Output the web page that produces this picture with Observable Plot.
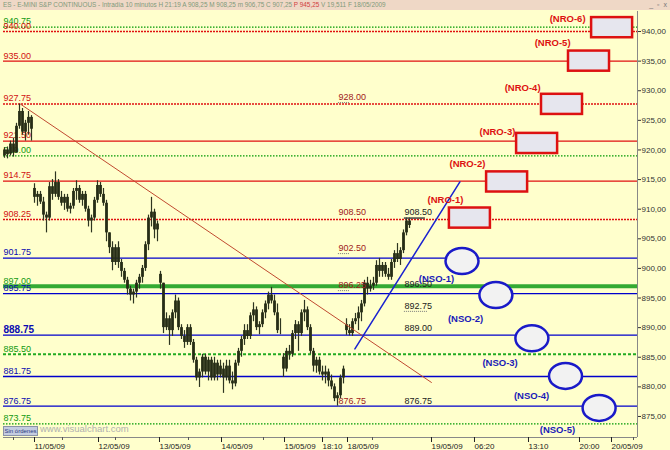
<!DOCTYPE html>
<html><head><meta charset="utf-8">
<script src="https://cdn.jsdelivr.net/npm/d3@7"></script>
<script src="https://cdn.jsdelivr.net/npm/@observablehq/plot@0.6"></script>
<style>
body{margin:0;background:#FFFFCC;font-family:"Liberation Sans",Arial,sans-serif;}
#wrap{position:relative;width:670px;height:450px;overflow:hidden;background:#FFFFCC;}
#hdr{height:10px;background:#EFD8C6;font-size:6.4px;line-height:10px;color:#7f9a7a;white-space:nowrap;padding-left:3px;position:relative;}
#hdr .r{color:#d04040;}
#hdr .w{position:absolute;right:2px;top:1px;color:#777;font-size:7px;line-height:8px;letter-spacing:1px;}
#btn{position:absolute;left:3px;top:426px;width:33px;height:8px;background:#c4cce0;border:1px solid #8a92a8;font-size:6px;line-height:8px;color:#2a3a80;text-align:center;}
#wm{position:absolute;left:40px;top:423px;font-size:9.5px;color:#b0b0b0;}
svg{display:block;}
</style></head>
<body><div id="wrap">
<div id="hdr">ES - E-MINI S&amp;P CONTINUOUS - Intradía 10 minutos H 21:19 A 908,25 M 908,25 m 906,75 C 907,25 <span class="r">P 945,25</span> V 19,511 F 18/05/2009<span class="w">_ ▫ x</span></div>
<div id="chart"></div>
<div id="btn">Sin órdenes</div>
<div id="wm">www.visualchart.com</div>
</div>
<script>
// ---- OHLC bars (10-minute), [open, high, low, close]
const day0 = [
 [919.0,920.4,918.6,920.0],[920.0,920.5,918.5,919.2],[919.3,921.5,919.0,921.0],[921.0,922.0,918.8,919.5],
 [919.5,924.5,919.5,924.0],[924.0,927.75,923.5,926.5],[926.5,927.0,922.5,923.0],[923.0,925.0,921.5,924.5],
 [924.5,926.5,922.5,925.5],[925.5,925.8,921.5,923.5]];
const day1 = [
 [913.5,914.3,911.0,912.0],[912.0,913.0,910.5,912.5],[912.5,913.0,910.8,911.2],[911.2,912.0,908.0,909.0],
 [909.0,909.5,906.0,908.5],[908.5,914.5,908.0,913.8],[913.8,915.0,911.5,912.5],[912.5,916.3,912.0,914.5],
 [914.5,915.0,911.5,912.0],[912.0,913.0,910.5,911.0],[911.0,912.5,909.8,912.0],[912.0,912.5,909.5,910.0],
 [910.0,911.0,909.2,910.5],[910.5,913.5,910.0,913.0],[913.0,914.8,911.5,913.5],[913.5,914.0,911.0,911.5],
 [911.5,913.0,910.5,912.5],[912.5,913.0,909.5,910.0],[910.0,910.5,907.0,908.0],[908.0,909.0,906.0,908.5],
 [908.5,912.0,908.0,911.5],[911.5,914.8,911.0,914.0],[914.0,914.5,912.0,912.5],[912.5,913.5,910.5,911.0],
 [911.0,911.5,904.5,906.0]];
const day2 = [
 [906.0,906.0,902.5,903.5],[903.5,904.5,899.6,901.0],[901.0,904.0,900.5,903.5],[903.5,904.5,900.0,901.0],
 [901.0,901.5,898.5,899.5],[899.5,900.0,897.5,898.0],[898.0,898.5,895.5,896.5],[896.5,897.0,894.5,895.5],
 [895.5,896.5,894.0,896.0],[896.0,898.0,895.0,897.5],[897.5,899.0,896.5,898.5],[898.5,900.5,897.5,900.0],
 [900.0,904.5,899.5,904.0],[904.0,909.0,903.0,908.5],[908.5,912.0,907.0,909.5],[909.5,910.0,905.0,906.5],
 [906.5,908.0,904.5,907.5]];
const day3 = [
 [899.0,899.5,896.5,897.5],[897.5,897.5,889.0,890.0],[890.0,892.5,889.5,891.5],[891.5,892.0,887.0,889.5],
 [889.5,893.0,888.5,892.5],[892.5,895.5,891.5,894.5],[894.5,895.0,889.5,890.0],[890.0,890.5,888.0,888.5],
 [888.5,889.5,886.5,887.5],[887.5,890.5,887.0,890.0],[890.0,890.5,887.0,887.5],[887.5,888.0,884.0,884.5],
 [884.5,885.0,881.0,881.5],[881.5,883.0,879.9,882.5],[882.5,885.5,881.5,885.0],[885.0,885.5,882.0,882.5],
 [882.5,885.0,881.0,884.5],[884.5,885.0,881.0,881.5],[881.5,885.0,881.0,884.0],[884.0,884.5,881.0,882.0],
 [882.0,884.5,881.5,883.5]];
const day4 = [
 [883.0,884.0,878.9,881.5],[881.5,884.5,881.0,883.5],[883.5,884.5,880.5,881.0],[881.0,882.5,879.5,880.5],
 [880.5,884.5,880.0,884.0],[884.0,886.5,883.5,886.0],[886.0,888.5,885.0,888.0],[888.0,890.5,887.0,889.5],
 [889.5,890.5,888.0,888.5],[888.5,892.5,888.0,892.0],[892.0,894.2,891.0,893.0],[893.0,893.5,889.5,890.0],
 [890.0,891.0,888.8,890.5],[890.5,893.0,890.0,892.5],[892.5,894.5,891.5,894.0],[894.0,896.0,893.0,895.5],
 [895.5,896.8,894.0,894.5],[894.5,895.5,892.0,892.5],[892.5,894.0,889.0,889.5],[889.5,891.5,888.8,889.5]];
const day5 = [
 [885.0,885.6,881.6,883.0],[883.0,886.5,882.5,886.0],[886.0,887.0,884.5,885.5],[885.5,889.5,885.0,889.0],
 [889.0,891.2,888.0,890.5],[890.5,891.0,886.0,889.0],[889.0,893.0,888.5,892.5],[892.5,894.6,891.0,893.0],
 [893.0,893.5,889.5,890.0],[890.0,890.5,885.5,886.0],[886.0,886.5,882.5,883.5],[883.5,885.0,882.3,884.5],
 [884.5,885.0,882.0,882.5],[882.5,883.5,881.0,882.0],[882.0,883.5,880.5,882.5],[882.5,883.0,880.0,881.0],
 [881.0,882.0,879.5,880.0],[880.0,880.5,877.5,878.0],[878.0,879.0,876.75,878.5],[878.5,882.0,878.0,881.5],
 [881.5,883.5,880.5,883.0]];
const day6 = [
 [890.5,891.5,888.7,889.5],[889.5,890.5,888.6,889.0],[889.0,891.5,888.5,891.0],[891.0,892.4,890.5,891.5],
 [891.5,893.5,889.5,892.5],[892.5,894.6,891.0,894.0],[894.0,898.0,893.5,897.5],[897.5,898.5,895.5,896.5],
 [896.5,898.0,896.0,897.0],[897.0,898.5,896.3,897.5],[897.5,901.3,897.0,900.5],[900.5,901.7,898.5,899.5],
 [899.5,901.0,898.5,900.5],[900.5,901.0,898.5,899.0],[899.0,900.0,898.0,898.5],[898.5,901.5,898.0,901.0],
 [901.0,903.0,900.0,902.5],[902.5,904.2,901.0,901.5],[901.5,903.5,900.5,903.0],[903.0,906.5,902.5,906.0],
 [906.0,908.5,905.5,908.0],[908.0,908.5,906.75,907.25]];

// ---- horizontal levels
const redSolid = [935.00, 921.50, 914.75];
const redDotted = [940.00, 927.75, 908.25];
const greenDotted = [940.75, 919.00, 873.75];
const greenDashed = [885.50];
const greenThick = [897.00];
const blueSolid = [901.75, 895.75, 881.75, 876.75];
const blueBold = [888.75];

// ---- annotations
const annotA = [928.00, 908.50, 902.50, 896.25, 876.75];
const annotB = [908.50, 896.50, 892.75, 889.00, 876.75];
const underA = [928.00, 902.50, 896.25, 876.75];
const underB = [892.75];
const highMark = [908.50];
const annotSlotA = 111.3, annotSlotB = 133.3;

const redTrend = [{slot: 5.3, price: 927.75}, {slot: 142.3, price: 880.75}];
const blueTrend = [{slot: 116.8, price: 886.4}, {slot: 151.8, price: 914.6}];

const nroNames = ["(NRO-1)","(NRO-2)","(NRO-3)","(NRO-4)","(NRO-5)","(NRO-6)"];
const nroPrices = [908.50, 914.60, 921.10, 927.70, 935.00, 940.65];
const nroSlots = [148.3, 160.7, 170.7, 179.0, 188.0, 195.7];
const nroLabelSlots = [147.0, 154.3, 164.3, 172.7, 182.7, 187.7];
const nroLabelPrices = [911.6, 917.7, 923.1, 930.5, 938.0, 942.2];

const nsoNames = ["(NSO-1)","(NSO-2)","(NSO-3)","(NSO-4)","(NSO-5)"];
const nsoPrices = [901.25, 895.5, 888.2, 881.85, 876.45];
const nsoSlots = [152.5, 163.8, 175.8, 187.0, 198.2];
const nsoLabelSlots = [144.0, 153.7, 165.2, 175.7, 184.3];
const nsoLabelPrices = [898.3, 891.55, 884.1, 878.4, 872.8];

// ---- axes
const xTickSlots = [9.67, 31, 51.33, 72, 93, 105.67, 114, 142, 156.33, 174.33, 191.33, 202];
const xTickLabels = ["11/05/09","12/05/09","13/05/09","14/05/09","15/05/09","18:10","18/05/09","19/05/09","06:20","13:10","20:00","20/05/09"];
const xMinorSlots = [3, 19.33, 37, 61.33, 86.33, 122.67, 209.67];
const yTicks = [875, 880, 885, 890, 895, 900, 905, 910, 915, 920, 925, 930, 935, 940];

const xDomain = [-1/3, 211];
const yDomain = [871.45, 943.38];

const bars = [day0, day1, day2, day3, day4, day5, day6].flat().map(([o,h,l,c], i) => ({i, o, h, l, c}));
const nro = nroNames.map((name, k) => ({name, price: nroPrices[k], slot: nroSlots[k], ls: nroLabelSlots[k], lp: nroLabelPrices[k]}));
const nso = nsoNames.map((name, k) => ({name, price: nsoPrices[k], slot: nsoSlots[k], ls: nsoLabelSlots[k], lp: nsoLabelPrices[k]}));
const xLabelMap = new Map(xTickSlots.map((s, k) => [s, xTickLabels[k]]));

const BOXW = 13.67, BOXH = 3.4;
const ERX = 16.5, ERY = 13, KK = 0.5523;
const ellipse = {draw(ctx) {
  ctx.moveTo(ERX, 0);
  ctx.bezierCurveTo(ERX, KK*ERY, KK*ERX, ERY, 0, ERY);
  ctx.bezierCurveTo(-KK*ERX, ERY, -ERX, KK*ERY, -ERX, 0);
  ctx.bezierCurveTo(-ERX, -KK*ERY, -KK*ERX, -ERY, 0, -ERY);
  ctx.bezierCurveTo(KK*ERX, -ERY, ERX, -KK*ERY, ERX, 0);
  ctx.closePath();
}};

const fmt = d => d.toFixed(2);
const lab = (arr, fill, extra = {}) => Plot.text(arr, {y: d => d, text: fmt, frameAnchor: "left", textAnchor: "start", dx: 0, dy: -5.5, fill, fontSize: 9, ...extra});

const plot = Plot.plot({
  width: 670, height: 440,
  marginTop: 1, marginBottom: 13, marginLeft: 3, marginRight: 33,
  x: {domain: xDomain},
  y: {domain: yDomain},
  style: {background: "transparent", fontFamily: "Liberation Sans, Arial, sans-serif", overflow: "visible"},
  marks: [
    Plot.ruleY(greenDotted, {y: d => d, stroke: "#009900", strokeWidth: 1.3, strokeDasharray: "1.5,1.5"}),
    Plot.ruleY(redDotted, {y: d => d, stroke: "#e01010", strokeWidth: 1.6, strokeDasharray: "2,1"}),
    Plot.ruleY(redSolid, {y: d => d, stroke: "#e01010", strokeWidth: 1.3}),
    Plot.ruleY(greenDashed, {y: d => d, stroke: "#22aa22", strokeWidth: 2, strokeDasharray: "3,2"}),
    Plot.ruleY(greenThick, {y: d => d, stroke: "#33aa33", strokeWidth: 4}),
    Plot.ruleY(blueSolid.concat(blueBold), {y: d => d, stroke: "#0000cc", strokeWidth: 1.3}),
    lab(greenDotted, "#119911"), lab(greenDashed, "#119911"), lab(greenThick, "#119911"),
    lab(redSolid, "#d01010"), lab(redDotted, "#d01010"),
    lab(blueSolid, "#0a0ab0"), lab(blueBold, "#0a0ab0", {fontSize: 10, fontWeight: "bold"}),
    Plot.ruleX([xDomain[1]], {stroke: "#888", strokeWidth: 1}),
    Plot.ruleY([yDomain[0]], {stroke: "#888", strokeWidth: 1}),
    Plot.axisY({ticks: yTicks, anchor: "right", tickSize: 3, tickPadding: 1, tickFormat: d => d.toFixed(2).replace(".", ","), fontSize: 8, color: "#333", label: null}),
    Plot.axisX({ticks: xTickSlots, tickSize: 5, tickPadding: 1, tickFormat: d => xLabelMap.get(d), textAnchor: "start", dx: 1, fontSize: 8, color: "#222", label: null}),
    Plot.axisX({ticks: xMinorSlots, tickSize: 3, tickFormat: () => "", color: "#555", label: null}),
    Plot.ruleX(bars, {x: "i", y1: "l", y2: "h", stroke: "#2e3520", strokeWidth: 1.2}),
    Plot.ruleX(bars, {x: "i", y1: "o", y2: "c", stroke: "#262d16", strokeWidth: 2.8}),
    Plot.line(redTrend, {x: "slot", y: "price", stroke: "#c04a30", strokeWidth: 1}),
    Plot.line(blueTrend, {x: "slot", y: "price", stroke: "#1a22d0", strokeWidth: 1.5}),
    Plot.ruleY(underA, {y: d => d, x1: annotSlotA, x2: annotSlotA + 4, stroke: "#777", strokeDasharray: "1,1"}),
    Plot.ruleY(underB, {y: d => d, x1: annotSlotB, x2: annotSlotB + 8, stroke: "#777", strokeDasharray: "1,1"}),
    Plot.ruleY(highMark, {y: d => d, x1: annotSlotB, x2: annotSlotB + 7, stroke: "#444", strokeWidth: 1.5}),
    Plot.text(annotA, {x: annotSlotA, y: d => d, text: fmt, textAnchor: "start", dy: -5.5, fontSize: 9, fill: "#a02020"}),
    Plot.text(annotB, {x: annotSlotB, y: d => d, text: fmt, textAnchor: "start", dy: -5.5, fontSize: 9, fill: "#222"}),
    Plot.rect(nro, {x1: "slot", x2: d => d.slot + BOXW, y1: d => d.price - BOXH/2, y2: d => d.price + BOXH/2, fill: "#e6e6ee", stroke: "#dd1111", strokeWidth: 2.5}),
    Plot.text(nro, {x: "ls", y: "lp", text: "name", fill: "#dd1111", fontWeight: "bold", fontSize: 9.5}),
    Plot.dot(nso, {x: "slot", y: "price", symbol: ellipse, r: 5, fill: "#f2f2f2", stroke: "#1a1ac8", strokeWidth: 2.5}),
    Plot.text(nso, {x: "ls", y: "lp", text: "name", fill: "#1a1ab8", fontWeight: "bold", fontSize: 9.5})
  ]
});
document.getElementById("chart").appendChild(plot);
</script>
</body></html>
